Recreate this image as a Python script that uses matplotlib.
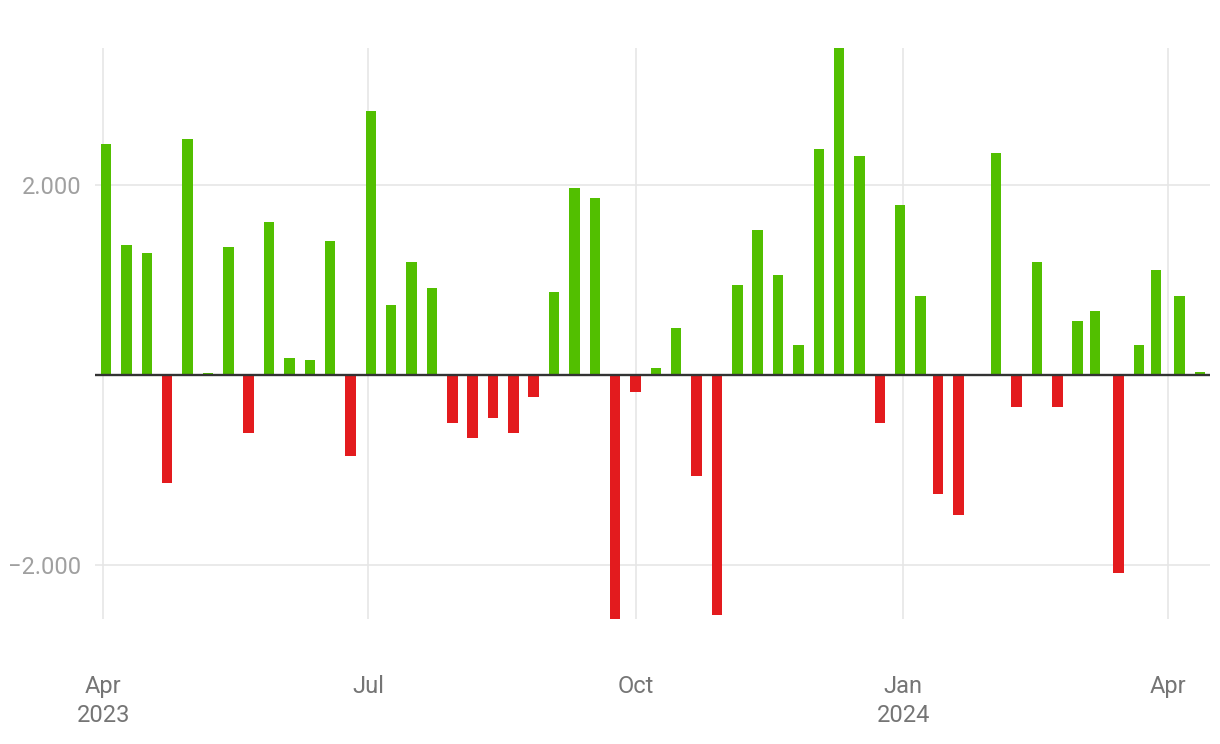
import matplotlib
matplotlib.use("Agg")
import matplotlib.pyplot as plt
import matplotlib.dates as mdates
from matplotlib.ticker import FuncFormatter, FixedLocator
import pandas as pd

dates = [
    "2023-04-02", "2023-04-09", "2023-04-16", "2023-04-23", "2023-04-30",
    "2023-05-07", "2023-05-14", "2023-05-21", "2023-05-28", "2023-06-04",
    "2023-06-11", "2023-06-18", "2023-06-25", "2023-07-02", "2023-07-09",
    "2023-07-16", "2023-07-23", "2023-07-30", "2023-08-06", "2023-08-13",
    "2023-08-20", "2023-08-27", "2023-09-03", "2023-09-10", "2023-09-17",
    "2023-09-24", "2023-10-01", "2023-10-08", "2023-10-15", "2023-10-22",
    "2023-10-29", "2023-11-05", "2023-11-12", "2023-11-19", "2023-11-26",
    "2023-12-03", "2023-12-10", "2023-12-17", "2023-12-24", "2023-12-31",
    "2024-01-07", "2024-01-13", "2024-01-20", "2024-02-02", "2024-02-09",
    "2024-02-16", "2024-02-23", "2024-03-01", "2024-03-07", "2024-03-15",
    "2024-03-22", "2024-03-28", "2024-04-05", "2024-04-12",
]
values = [
    2440, 1376, 1293, -1131, 2490,
    20, 1355, -607, 1617, 187,
    158, 1409, -848, 2785, 736,
    1197, 915, -503, -661, -453,
    -611, -233, 873, 1975, 1871,
    -2565, -179, 75, 495, -1060,
    -2523, 956, 1526, 1052, 316,
    2386, 3446, 2311, -503, 1788,
    840, -1251, -1472, 2345, -337,
    1189, -337, 570, 682, -2083,
    324, 1114, 831, 33,
]
tick_dates = ["2023-04-01", "2023-07-01", "2023-10-01", "2024-01-01", "2024-04-01"]
tick_labels = ["Apr\n2023", "Jul", "Oct", "Jan\n2024", "Apr"]
y_ticks = [-2000, 2000]

GREEN = "#52bf00"
RED = "#e31b1e"

plt.rcParams["font.family"] = ["Roboto", "DejaVu Sans"]

fig = plt.figure(figsize=(12.2, 7.44), dpi=100)
ax = fig.add_axes([95 / 1220, 1 - 619 / 744, (1210 - 95) / 1220, (619 - 48) / 744])

x = pd.to_datetime(dates)
colors = [GREEN if v >= 0 else RED for v in values]
ax.bar(x, values, width=3.6, color=colors, zorder=2, linewidth=0)

ax.axhline(0, color="#333333", linewidth=1.7, zorder=3)

ax.set_xlim(pd.Timestamp("2023-03-29 04:00"), pd.Timestamp("2024-04-15 12:00"))
ax.set_ylim(min(values), max(values))

ax.xaxis.set_major_locator(FixedLocator(mdates.date2num(pd.to_datetime(tick_dates))))
ax.set_xticklabels(tick_labels)
ax.yaxis.set_major_locator(FixedLocator(y_ticks))

def fmt(v, pos):
    s = f"{abs(int(round(v))):,}".replace(",", ".")
    return ("\u2212" + s) if v < 0 else s

ax.yaxis.set_major_formatter(FuncFormatter(fmt))

ax.grid(True, color="#e6e6e6", linewidth=1.2, zorder=0)
ax.set_axisbelow(True)
for s in ax.spines.values():
    s.set_visible(False)

ax.tick_params(axis="x", length=0, pad=40, labelsize=17, labelcolor="#757575")
ax.tick_params(axis="y", length=0, pad=10, labelsize=17, labelcolor="#a0a0a0")
for lab in ax.get_xticklabels():
    lab.set_linespacing(1.35)

fig.savefig("out.png", dpi=100, facecolor="white")
